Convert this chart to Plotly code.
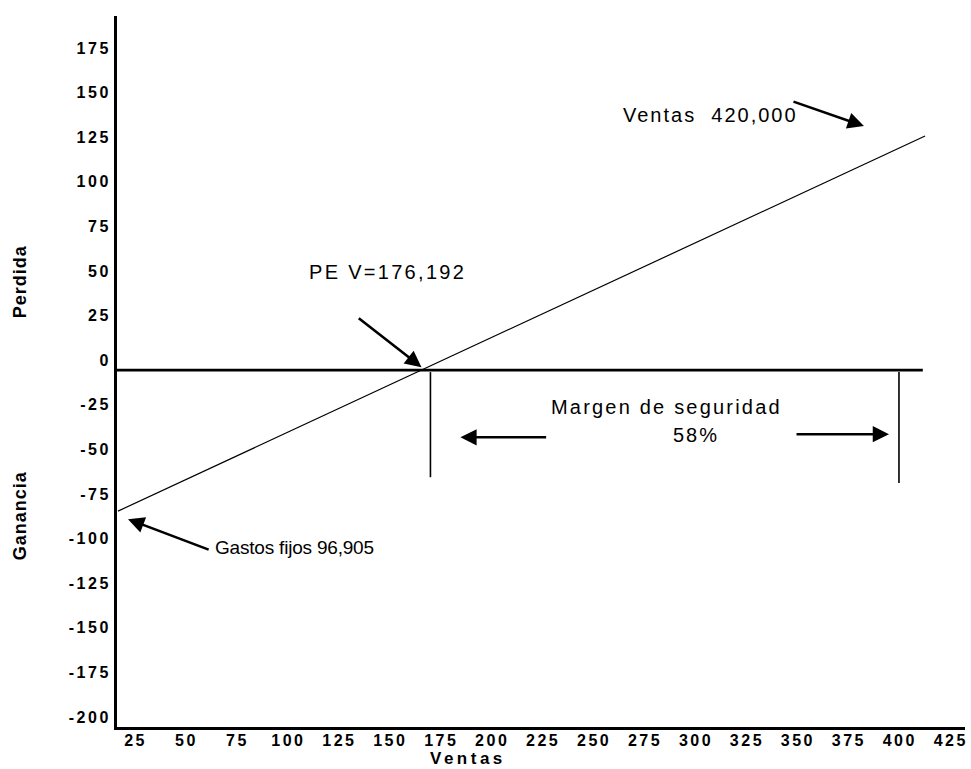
import plotly.graph_objects as go

# values (thousands)
ventas_x = [16.4, 412.4]
resultado_y = [-79.0, 131.2]

equilibrio_x = [15.9, 411.3]
equilibrio_y = [0, 0]

margen_izq_x = [169.7, 169.7]
margen_izq_y = [-1.1, -60.0]
margen_der_x = [399.6, 399.6]
margen_der_y = [-1.1, -63.3]

x_ticks = [25, 50, 75, 100, 125, 150, 175, 200, 225, 250, 275, 300, 325, 350, 375, 400, 425]
y_ticks = [175, 150, 125, 100, 75, 50, 25, 0, -25, -50, -75, -100, -125, -150, -175, -200]

FONT = "Liberation Sans, Arial, sans-serif"


def spaced(txt, px):
    return f"<span style='letter-spacing:{px}px'>{txt}</span>"


fig = go.Figure()

fig.add_trace(go.Scatter(
    x=equilibrio_x, y=equilibrio_y, mode="lines",
    line=dict(color="black", width=2.6), hoverinfo="skip"
))
fig.add_trace(go.Scatter(
    x=ventas_x, y=resultado_y, mode="lines",
    line=dict(color="black", width=1.2), hoverinfo="skip"
))
fig.add_trace(go.Scatter(
    x=margen_izq_x, y=margen_izq_y, mode="lines",
    line=dict(color="black", width=1.6), hoverinfo="skip"
))
fig.add_trace(go.Scatter(
    x=margen_der_x, y=margen_der_y, mode="lines",
    line=dict(color="black", width=1.6), hoverinfo="skip"
))

# arrows: (tip x, tip y, tail x, tail y)
arrows = [
    (165.3, 1.7, 133.8, 29.7),
    (382.4, 136.8, 347.1, 150.8),
    (21.3, -83.5, 61.6, -100.9),
    (184.4, -37.6, 227.2, -37.6),
    (394.7, -35.9, 348.6, -35.9),
]
for tx, ty, sx, sy in arrows:
    fig.add_annotation(
        x=tx, y=ty, ax=sx, ay=sy, xref="x", yref="y", axref="x", ayref="y",
        text="", showarrow=True, arrowhead=2, arrowsize=1.25, arrowwidth=2.6,
        arrowcolor="black", standoff=0
    )

txt_font = dict(family=FONT, size=20, color="black")
fig.add_annotation(x=148.6, y=54.9, text=spaced("PE V=176,192", 2.3),
                   showarrow=False, font=txt_font)
fig.add_annotation(x=307.3, y=142.9, text=spaced("Ventas  420,000", 2),
                   showarrow=False, font=txt_font)
fig.add_annotation(x=63.0, y=-99.2, text=spaced("Gastos fijos 96,905", -0.2),
                   xanchor="left", showarrow=False,
                   font=dict(family=FONT, size=19, color="black"))
fig.add_annotation(x=285.6, y=-20.7, text=spaced("Margen de seguridad", 2.2),
                   showarrow=False, font=txt_font)
fig.add_annotation(x=299.9, y=-36.4, text=spaced("58%", 2),
                   showarrow=False, font=txt_font)

bold = dict(family=FONT, size=18, color="black", weight="bold")
fig.add_annotation(x=0.414, y=-0.045, xref="paper", yref="paper",
                   xanchor="center", yanchor="middle",
                   text=spaced("Ventas", 3.5), showarrow=False,
                   font=dict(family=FONT, size=17, color="black", weight="bold"))
fig.add_annotation(x=-0.114, y=0.626, xref="paper", yref="paper",
                   xanchor="center", yanchor="middle",
                   text=spaced("Perdida", 1), textangle=-90, showarrow=False, font=bold)
fig.add_annotation(x=-0.114, y=0.297, xref="paper", yref="paper",
                   xanchor="center", yanchor="middle",
                   text=spaced("Ganancia", 1), textangle=-90, showarrow=False, font=bold)

tick_font = dict(family=FONT, size=16, color="black", weight="bold")

fig.update_layout(
    width=971, height=769,
    margin=dict(l=117, r=3, t=16, b=42),
    paper_bgcolor="white", plot_bgcolor="white",
    showlegend=False,
    xaxis=dict(
        range=[15.9, 432], showgrid=False, zeroline=False,
        showline=True, linecolor="black", linewidth=3,
        tickvals=x_ticks, ticktext=[spaced(t, 2.5) for t in x_ticks],
        ticks="", tickfont=tick_font, ticklabelstandoff=-3
    ),
    yaxis=dict(
        range=[-200, 198.5], showgrid=False, zeroline=False,
        showline=True, linecolor="black", linewidth=3,
        tickvals=y_ticks, ticktext=[spaced(t, 2.5) for t in y_ticks],
        ticks="", tickfont=tick_font, ticklabelshift=-10, ticklabelstandoff=0
    ),
)

fig.write_html("out.html", config={"displayModeBar": False},
               post_script="document.body.style.margin='0';")
